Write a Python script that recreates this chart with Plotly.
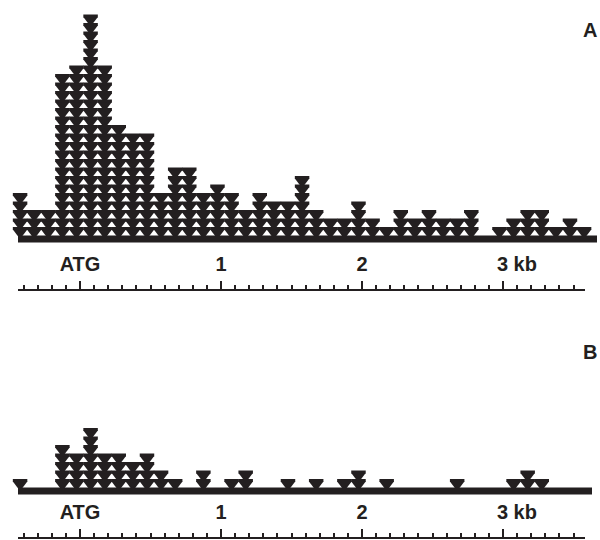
import plotly.graph_objects as go

# 100-bp bins, positions in kb relative to ATG (bin centres)
bin_centres = [round(-0.425 + 0.1 * i, 3) for i in range(41)]

# number of insertions (triangles) per bin
counts_A = [5, 3, 3, 19, 20, 26, 20, 13, 12, 12, 5, 8, 8, 5, 6, 5, 3, 5, 4, 4,
            7, 3, 2, 2, 4, 2, 1, 3, 2, 3, 2, 2, 3, 0, 1, 2, 3, 3, 1, 2, 1]
counts_B = [1, 0, 0, 5, 4, 7, 4, 4, 3, 4, 2, 1, 0, 2, 0, 1, 2, 0, 0, 1,
            0, 1, 0, 1, 2, 0, 1, 0, 0, 0, 0, 1, 0, 0, 0, 1, 2, 1, 0, 0, 0]

ruler_ticks = [0, 1, 2, 3]
ruler_labels = ["ATG", "1", "2", "\u00a0" * 5 + "3 kb"]
panel_labels = ["A", "B"]

INK = "#231f20"
W, H = 600, 540
PX_PER_KB = 141.0
ATG_PX = 80.0
ROW_PX = 8.5
BASE_A = 235.5
BASE_B = 487.5
CLEAR = "rgba(0,0,0,0)"

MARK_W = 14.5                      # width of one insertion mark (px)
TRI_SIZE = MARK_W / 1.1547         # plotly triangle width = 1.1547 * size
BAND_SIZE = MARK_W / 1.4           # plotly line-ew length = 1.4 * size
BAND_W = 3.0                       # thickness of the flat top of a mark


def kb(px):
    return (px - ATG_PX) / PX_PER_KB


def stack(counts, drop_px):
    xs, ys = [], []
    for c, n in zip(bin_centres, counts):
        for k in range(1, n + 1):
            xs.append(c)
            ys.append(k - drop_px / ROW_PX)
    return xs, ys


fig = go.Figure()
# carrier traces for the two ruler axes
fig.add_trace(go.Scatter(x=[None], y=[None], xaxis="x2", yaxis="y", showlegend=False,
                         hoverinfo="skip"))
fig.add_trace(go.Scatter(x=[None], y=[None], xaxis="x3", yaxis="y2", showlegend=False,
                         hoverinfo="skip"))

tri_drop = 2.5 + 0.25 * TRI_SIZE   # triangle top sits 2.5 px below the row top
band_drop = BAND_W / 2
tri = dict(symbol="triangle-down", size=TRI_SIZE, color=INK, line=dict(width=0))
band = dict(symbol="line-ew", size=BAND_SIZE, color=INK, line=dict(width=BAND_W, color=INK))

for counts, yax in ((counts_A, "y"), (counts_B, "y2")):
    xs, ys = stack(counts, tri_drop)
    fig.add_trace(go.Scatter(x=xs, y=ys, mode="markers", marker=tri, xaxis="x", yaxis=yax,
                             hoverinfo="skip", showlegend=False, cliponaxis=False))
    xs, ys = stack(counts, band_drop)
    fig.add_trace(go.Scatter(x=xs, y=ys, mode="markers", marker=band, xaxis="x", yaxis=yax,
                             hoverinfo="skip", showlegend=False, cliponaxis=False))

font = dict(family="Liberation Sans, Arial, sans-serif", size=20, color=INK, weight="bold")

ruler = dict(
    anchor="free", side="top", domain=[18 / W, 585 / W], range=[kb(18), kb(585)],
    showline=True, linewidth=2.5, linecolor=INK, mirror=False,
    ticks="outside", ticklen=8, tickwidth=2.5, tickcolor=INK,
    tickmode="array", tickvals=ruler_ticks, ticktext=ruler_labels, tickfont=font,
    ticklabelstandoff=2,
    minor=dict(ticks="outside", tick0=0, dtick=0.1, ticklen=3.5, tickwidth=2, tickcolor=INK),
    showgrid=False, zeroline=False, fixedrange=True,
)

fig.update_layout(
    width=W, height=H, margin=dict(l=0, r=0, t=0, b=0),
    paper_bgcolor="white", plot_bgcolor=CLEAR,
    xaxis=dict(domain=[0, 1], range=[kb(0), kb(W)], visible=False, fixedrange=True),
    yaxis=dict(domain=[1 - 300 / H, 1], range=[(BASE_A - 300) / ROW_PX, BASE_A / ROW_PX],
               visible=False, fixedrange=True),
    yaxis2=dict(domain=[0, 1 - 300 / H], range=[(BASE_B - 540) / ROW_PX, (BASE_B - 300) / ROW_PX],
                visible=False, fixedrange=True),
    xaxis2=dict(ruler, position=1 - 289.5 / H),
    xaxis3=dict(ruler, position=1 - 537.5 / H),
    shapes=[
        dict(type="rect", xref="x", yref="y", x0=kb(18), x1=kb(597), y0=0, y1=-7 / ROW_PX,
             fillcolor=INK, line=dict(width=0), layer="above"),
        dict(type="rect", xref="x", yref="y2", x0=kb(18), x1=kb(592), y0=0, y1=-7 / ROW_PX,
             fillcolor=INK, line=dict(width=0), layer="above"),
    ],
    annotations=[
        dict(text=panel_labels[0], xref="paper", yref="paper", x=590 / W, y=1 - 30 / H,
             showarrow=False, font=font, xanchor="center", yanchor="middle"),
        dict(text=panel_labels[1], xref="paper", yref="paper", x=590 / W, y=1 - 352 / H,
             showarrow=False, font=font, xanchor="center", yanchor="middle"),
    ],
)

fig.write_html("out.html", config={"displayModeBar": False, "staticPlot": True},
               post_script="document.body.style.margin='0';")
